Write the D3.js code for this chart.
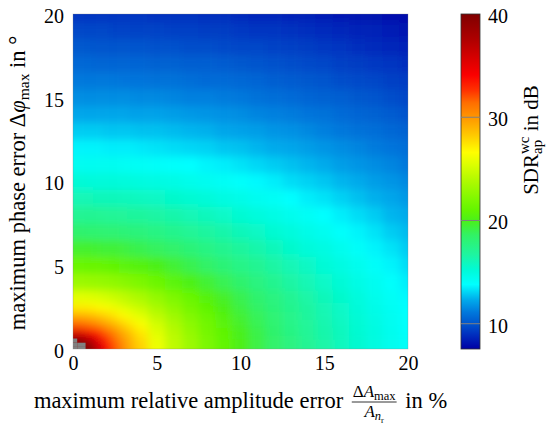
<!DOCTYPE html>
<html>
<head>
<meta charset="utf-8">
<script src="https://cdn.jsdelivr.net/npm/d3@7"></script>
<style>
  body { margin: 0; background: #fff; }
  text { font-family: "Liberation Serif", "DejaVu Serif", serif; }
</style>
</head>
<body>
<div id="chart"></div>
<script>
// grid levels (cell centres) for both error axes
const ampErr = [0, 0.5, 1, 1.5, 2, 2.5, 3, 3.5, 4, 5, 6, 7, 8, 9, 10, 11, 12, 13, 14, 15, 16, 17, 18, 19, 20];
const phaseErr = [0, 0.25, 0.5, 0.75, 1, 1.5, 2, 2.5, 3, 4, 5, 6, 7, 8, 9, 10, 11, 12, 13, 14, 15, 16, 17, 18, 19, 20];

// worst case SDR in dB, one row per phase error level (null = above colour range)
const sdrWc = [
  [null, null, 40.0, 36.5, 34.0, 32.0, 30.5, 29.1, 28.0, 26.0, 24.4, 23.1, 21.9, 20.9, 20.0, 19.2, 18.4, 17.7, 17.1, 16.5, 15.9, 15.4, 14.9, 14.4, 14.0],
  [null, null, 39.2, 36.1, 33.8, 31.9, 30.4, 29.0, 27.9, 26.0, 24.4, 23.1, 21.9, 20.9, 20.0, 19.2, 18.4, 17.7, 17.1, 16.5, 15.9, 15.4, 14.9, 14.4, 14.0],
  [null, 40.0, 37.5, 35.2, 33.2, 31.5, 30.1, 28.9, 27.8, 25.9, 24.3, 23.0, 21.9, 20.9, 20.0, 19.2, 18.4, 17.7, 17.1, 16.5, 15.9, 15.4, 14.9, 14.4, 14.0],
  [37.7, 37.1, 35.7, 34.0, 32.4, 31.0, 29.7, 28.6, 27.5, 25.7, 24.2, 23.0, 21.8, 20.8, 19.9, 19.1, 18.4, 17.7, 17.0, 16.4, 15.9, 15.4, 14.9, 14.4, 14.0],
  [35.2, 34.8, 33.9, 32.8, 31.5, 30.3, 29.2, 28.2, 27.2, 25.5, 24.1, 22.8, 21.7, 20.8, 19.9, 19.1, 18.3, 17.6, 17.0, 16.4, 15.9, 15.3, 14.9, 14.4, 13.9],
  [31.6, 31.5, 31.0, 30.4, 29.6, 28.8, 28.0, 27.2, 26.4, 25.0, 23.7, 22.5, 21.5, 20.6, 19.7, 18.9, 18.2, 17.5, 16.9, 16.3, 15.8, 15.3, 14.8, 14.3, 13.9],
  [29.1, 29.1, 28.8, 28.4, 27.9, 27.3, 26.7, 26.1, 25.5, 24.3, 23.2, 22.1, 21.2, 20.3, 19.5, 18.8, 18.1, 17.4, 16.8, 16.2, 15.7, 15.2, 14.7, 14.3, 13.9],
  [27.2, 27.1, 27.0, 26.7, 26.4, 26.0, 25.5, 25.0, 24.6, 23.6, 22.6, 21.7, 20.8, 20.0, 19.2, 18.5, 17.9, 17.3, 16.7, 16.1, 15.6, 15.1, 14.6, 14.2, 13.8],
  [25.6, 25.6, 25.5, 25.3, 25.0, 24.7, 24.4, 24.0, 23.6, 22.8, 22.0, 21.2, 20.4, 19.7, 19.0, 18.3, 17.7, 17.1, 16.5, 16.0, 15.5, 15.0, 14.5, 14.1, 13.7],
  [23.1, 23.1, 23.0, 22.9, 22.8, 22.6, 22.4, 22.2, 21.9, 21.3, 20.7, 20.1, 19.5, 18.9, 18.3, 17.7, 17.2, 16.6, 16.1, 15.6, 15.2, 14.7, 14.3, 13.9, 13.5],
  [21.2, 21.2, 21.1, 21.1, 21.0, 20.8, 20.7, 20.5, 20.4, 20.0, 19.5, 19.0, 18.5, 18.0, 17.5, 17.1, 16.6, 16.1, 15.7, 15.2, 14.8, 14.4, 14.0, 13.6, 13.2],
  [19.6, 19.6, 19.6, 19.5, 19.4, 19.4, 19.3, 19.1, 19.0, 18.7, 18.4, 18.0, 17.6, 17.2, 16.8, 16.4, 16.0, 15.5, 15.1, 14.8, 14.4, 14.0, 13.6, 13.3, 12.9],
  [18.3, 18.3, 18.2, 18.2, 18.1, 18.1, 18.0, 17.9, 17.8, 17.6, 17.3, 17.0, 16.7, 16.4, 16.0, 15.7, 15.3, 15.0, 14.6, 14.3, 13.9, 13.6, 13.3, 12.9, 12.6],
  [17.1, 17.1, 17.1, 17.1, 17.0, 17.0, 16.9, 16.8, 16.8, 16.6, 16.4, 16.1, 15.9, 15.6, 15.3, 15.0, 14.7, 14.4, 14.1, 13.8, 13.5, 13.2, 12.9, 12.5, 12.3],
  [16.1, 16.1, 16.1, 16.0, 16.0, 16.0, 15.9, 15.9, 15.8, 15.7, 15.5, 15.3, 15.1, 14.8, 14.6, 14.3, 14.1, 13.8, 13.5, 13.3, 13.0, 12.7, 12.4, 12.2, 11.9],
  [15.2, 15.2, 15.1, 15.1, 15.1, 15.1, 15.0, 15.0, 14.9, 14.8, 14.7, 14.5, 14.3, 14.1, 13.9, 13.7, 13.5, 13.2, 13.0, 12.8, 12.5, 12.3, 12.0, 11.8, 11.5],
  [14.3, 14.3, 14.3, 14.3, 14.3, 14.3, 14.2, 14.2, 14.1, 14.0, 13.9, 13.8, 13.6, 13.5, 13.3, 13.1, 12.9, 12.7, 12.5, 12.3, 12.0, 11.8, 11.6, 11.4, 11.1],
  [13.6, 13.6, 13.6, 13.6, 13.5, 13.5, 13.5, 13.5, 13.4, 13.3, 13.2, 13.1, 13.0, 12.8, 12.7, 12.5, 12.3, 12.2, 12.0, 11.8, 11.6, 11.4, 11.2, 11.0, 10.8],
  [12.9, 12.9, 12.9, 12.9, 12.8, 12.8, 12.8, 12.8, 12.7, 12.7, 12.6, 12.5, 12.4, 12.2, 12.1, 12.0, 11.8, 11.7, 11.5, 11.3, 11.1, 10.9, 10.8, 10.6, 10.4],
  [12.2, 12.2, 12.2, 12.2, 12.2, 12.2, 12.2, 12.1, 12.1, 12.1, 12.0, 11.9, 11.8, 11.7, 11.6, 11.4, 11.3, 11.2, 11.0, 10.9, 10.7, 10.5, 10.4, 10.2, 10.0],
  [11.6, 11.6, 11.6, 11.6, 11.6, 11.6, 11.6, 11.6, 11.5, 11.5, 11.4, 11.3, 11.3, 11.2, 11.1, 10.9, 10.8, 10.7, 10.5, 10.4, 10.3, 10.1, 10.0, 9.8, 9.6],
  [11.1, 11.1, 11.1, 11.1, 11.1, 11.1, 11.0, 11.0, 11.0, 10.9, 10.9, 10.8, 10.7, 10.7, 10.6, 10.5, 10.3, 10.2, 10.1, 10.0, 9.8, 9.7, 9.6, 9.4, 9.3],
  [10.6, 10.6, 10.6, 10.5, 10.5, 10.5, 10.5, 10.5, 10.5, 10.4, 10.4, 10.3, 10.3, 10.2, 10.1, 10.0, 9.9, 9.8, 9.7, 9.6, 9.4, 9.3, 9.2, 9.1, 8.9],
  [10.1, 10.1, 10.1, 10.0, 10.0, 10.0, 10.0, 10.0, 10.0, 9.9, 9.9, 9.8, 9.8, 9.7, 9.6, 9.6, 9.5, 9.4, 9.3, 9.2, 9.1, 8.9, 8.8, 8.7, 8.6],
  [9.6, 9.6, 9.6, 9.6, 9.6, 9.5, 9.5, 9.5, 9.5, 9.5, 9.4, 9.4, 9.3, 9.3, 9.2, 9.1, 9.1, 9.0, 8.9, 8.8, 8.7, 8.6, 8.5, 8.4, 8.2],
  [9.1, 9.1, 9.1, 9.1, 9.1, 9.1, 9.1, 9.1, 9.1, 9.0, 9.0, 9.0, 8.9, 8.9, 8.8, 8.7, 8.7, 8.6, 8.5, 8.4, 8.3, 8.2, 8.1, 8.0, 7.9]
];

const xTicks = [0, 5, 10, 15, 20];
const yTicks = [0, 5, 10, 15, 20];
const cTicks = [10, 20, 30, 40];
const cRange = [7.55, 40];

const W = 548, H = 425;
const serif = "'Liberation Serif', 'DejaVu Serif', serif";

const svg = d3.select("#chart").append("svg")
    .attr("width", W)
    .attr("height", H);

const x = d3.scaleLinear().domain([0, 20]).range([73, 408]);
const y = d3.scaleLinear().domain([0, 20]).range([349, 14]);

// jet-like colormap, stops picked off the colorbar
const cmapVals = [7.55, 8.9, 10, 11.1, 12.3, 13.8, 15.2, 16.7, 18.6, 20, 21, 22, 24, 25.4, 26.6, 28.3, 30, 31.4, 32.6, 34.1, 35.5, 37.5, 40];
const cmapCols = ["rgb(0,0,165)", "rgb(0,45,190)", "rgb(0,85,205)", "rgb(0,120,220)", "rgb(0,170,235)", "rgb(0,255,255)",
  "rgb(0,250,215)", "rgb(30,245,160)", "rgb(50,242,100)", "rgb(75,240,25)", "rgb(100,245,0)", "rgb(125,248,0)",
  "rgb(180,250,0)", "rgb(220,255,0)", "rgb(255,255,0)", "rgb(255,200,0)", "rgb(255,150,0)", "rgb(255,110,0)",
  "rgb(255,50,0)", "rgb(250,0,0)", "rgb(220,0,0)", "rgb(175,0,0)", "rgb(128,0,0)"];
const color = d3.scaleLinear().domain(cmapVals).range(cmapCols).clamp(true);

// each cell reaches half way to its neighbours
function cellEdges(levels) {
  return levels.map((v, i) => [
    i === 0 ? v : (levels[i - 1] + v) / 2,
    i === levels.length - 1 ? v : (v + levels[i + 1]) / 2
  ]);
}
const xe = cellEdges(ampErr), ye = cellEdges(phaseErr);

const cells = [];
sdrWc.forEach((row, j) => row.forEach((v, i) => cells.push({i: i, j: j, v: v})));

const defs = svg.append("defs");
defs.append("clipPath").attr("id", "plotclip")
  .append("rect")
    .attr("x", x(0)).attr("y", y(20))
    .attr("width", x(20) - x(0)).attr("height", y(0) - y(20));

// soft shading: blur the cell mosaic a little, like interpolated shading
const pad = 14;
defs.append("filter")
    .attr("id", "soft")
    .attr("filterUnits", "userSpaceOnUse")
    .attr("x", x(0) - pad).attr("y", y(20) - pad)
    .attr("width", x(20) - x(0) + 2 * pad).attr("height", y(0) - y(20) + 2 * pad)
  .append("feGaussianBlur")
    .attr("stdDeviation", 4.5);

// outer cells are stretched past the frame so the blur has no dark rim
function cx0(d) { return x(xe[d.i][0]) - (d.i === 0 ? pad : 0); }
function cx1(d) { return x(xe[d.i][1]) + (d.i === ampErr.length - 1 ? pad : 0.5); }
function cy0(d) { return y(ye[d.j][1]) - (d.j === phaseErr.length - 1 ? pad : 0.5); }
function cy1(d) { return y(ye[d.j][0]) + (d.j === 0 ? pad : 0); }

const heat = svg.append("g").attr("clip-path", "url(#plotclip)");
heat.append("g")
    .attr("filter", "url(#soft)")
  .selectAll("rect")
  .data(cells)
  .enter()
  .append("rect")
    .attr("x", cx0)
    .attr("y", cy0)
    .attr("width", d => cx1(d) - cx0(d))
    .attr("height", d => cy1(d) - cy0(d))
    .attr("fill", d => d.v === null ? color(40) : color(d.v));

// values above the colour range stay as crisp grey cells
heat.append("g")
  .selectAll("rect")
  .data(cells.filter(d => d.v === null))
  .enter()
  .append("rect")
    .attr("x", d => x(xe[d.i][0]))
    .attr("y", d => y(ye[d.j][1]))
    .attr("width", d => x(xe[d.i][1]) - x(xe[d.i][0]))
    .attr("height", d => y(ye[d.j][0]) - y(ye[d.j][1]))
    .attr("fill", "#808080");

// faint axis frame showing through
svg.append("rect")
    .attr("x", x(0)).attr("y", y(20))
    .attr("width", x(20) - x(0)).attr("height", y(0) - y(20))
    .attr("fill", "none")
    .attr("stroke", "#8a8a8a")
    .attr("stroke-width", 0.6)
    .attr("opacity", 0.5);

const xAxis = svg.append("g")
    .attr("transform", "translate(0," + y(0) + ")")
    .call(d3.axisBottom(x).tickValues(xTicks).tickSize(0).tickPadding(7));
xAxis.select(".domain").remove();
xAxis.selectAll("text").style("font-family", serif).style("font-size", "20px");

const yAxis = svg.append("g")
    .attr("transform", "translate(" + x(0) + ",0)")
    .call(d3.axisLeft(y).tickValues(yTicks).tickSize(0).tickPadding(9));
yAxis.select(".domain").remove();
yAxis.selectAll("text").attr("dy", "0.42em").style("font-family", serif).style("font-size", "20px");

// colorbar
const cb = d3.scaleLinear().domain(cRange).range([349, 14]);
const grad = defs.append("linearGradient")
    .attr("id", "cbar")
    .attr("x1", 0).attr("y1", 1).attr("x2", 0).attr("y2", 0);
grad.selectAll("stop")
  .data(cmapVals)
  .enter()
  .append("stop")
    .attr("offset", d => (d - cRange[0]) / (cRange[1] - cRange[0]))
    .attr("stop-color", d => color(d));

svg.append("rect")
    .attr("x", 461).attr("y", cb(40))
    .attr("width", 19).attr("height", cb(cRange[0]) - cb(40))
    .attr("fill", "url(#cbar)")
    .attr("stroke", "#333")
    .attr("stroke-width", 0.8);

svg.selectAll(".cbtick")
  .data(cTicks.filter(d => d < 40))
  .enter()
  .append("line")
    .attr("class", "cbtick")
    .attr("x1", 461).attr("x2", 480)
    .attr("y1", d => cb(d)).attr("y2", d => cb(d))
    .attr("stroke", "#808080")
    .attr("stroke-width", 1);

const cAxis = svg.append("g")
    .attr("transform", "translate(480,0)")
    .call(d3.axisRight(cb).tickValues(cTicks).tickSize(0).tickPadding(8));
cAxis.select(".domain").remove();
cAxis.selectAll("text").attr("dy", "0.42em").style("font-family", serif).style("font-size", "20px");

// text runs with sub/superscripts; stack = start at same x as previous part
function rich(g, parts) {
  let cx = 0, prevStart = 0;
  parts.forEach(p => {
    const start = p.stack ? prevStart : cx;
    const t = g.append("text")
        .attr("x", start)
        .attr("y", p.dy || 0)
        .style("font-family", serif)
        .style("font-size", p.size + "px")
        .style("font-style", p.it ? "italic" : "normal")
        .text(p.t);
    const w = t.node().getComputedTextLength();
    prevStart = start;
    cx = Math.max(cx, start + w);
  });
  return cx;
}

// y label
const yl = svg.append("g").attr("transform", "translate(25,183) rotate(-90)");
const ylIn = yl.append("g");
const ylW = rich(ylIn, [
  {t: "maximum phase error\u00a0\u0394", size: 22.5},
  {t: "\u03c6", size: 22.5, it: true},
  {t: "max", size: 15.5, dy: 4},
  {t: "\u00a0in \u00b0", size: 22.5}
]);
ylIn.attr("transform", "translate(" + (-ylW / 2) + ",0)");

// colorbar label
const cl = svg.append("g").attr("transform", "translate(538,140) rotate(-90)");
const clIn = cl.append("g");
const clW = rich(clIn, [
  {t: "SDR", size: 21},
  {t: "ap", size: 15, dy: 4},
  {t: "wc", size: 15, dy: -9, stack: true},
  {t: "\u00a0in dB", size: 21}
]);
clIn.attr("transform", "translate(" + (-clW / 2) + ",0)");

// x label with the fraction
const xl = svg.append("g").attr("transform", "translate(0,408)");
const xlIn = xl.append("g");
const part1 = xlIn.append("g");
const w1 = rich(part1, [{t: "maximum relative amplitude error\u00a0", size: 22.5}]);
const num = xlIn.append("g");
const numW = rich(num, [
  {t: "\u0394", size: 17, dy: -11},
  {t: "A", size: 17, it: true, dy: -11},
  {t: "max", size: 12.5, dy: -8}
]);
const den = xlIn.append("g");
const denW = rich(den, [
  {t: "A", size: 17, it: true, dy: 9},
  {t: "n", size: 12.5, it: true, dy: 12},
  {t: "r", size: 8.5, dy: 14.5}
]);
const fracW = Math.max(numW, denW) + 2;
const fx = w1 + 3;
num.attr("transform", "translate(" + (fx + (fracW - numW) / 2) + ",0)");
den.attr("transform", "translate(" + (fx + (fracW - denW) / 2) + ",0)");
xlIn.append("line")
    .attr("x1", fx).attr("x2", fx + fracW)
    .attr("y1", -6).attr("y2", -6)
    .attr("stroke", "#000").attr("stroke-width", 0.8);
const part2 = xlIn.append("g").attr("transform", "translate(" + (fx + fracW + 3) + ",0)");
const w2 = rich(part2, [{t: "\u00a0in %", size: 22.5}]);
const totalW = fx + fracW + 3 + w2;
xlIn.attr("transform", "translate(" + (240.5 - totalW / 2) + ",0)");
</script>
</body>
</html>
